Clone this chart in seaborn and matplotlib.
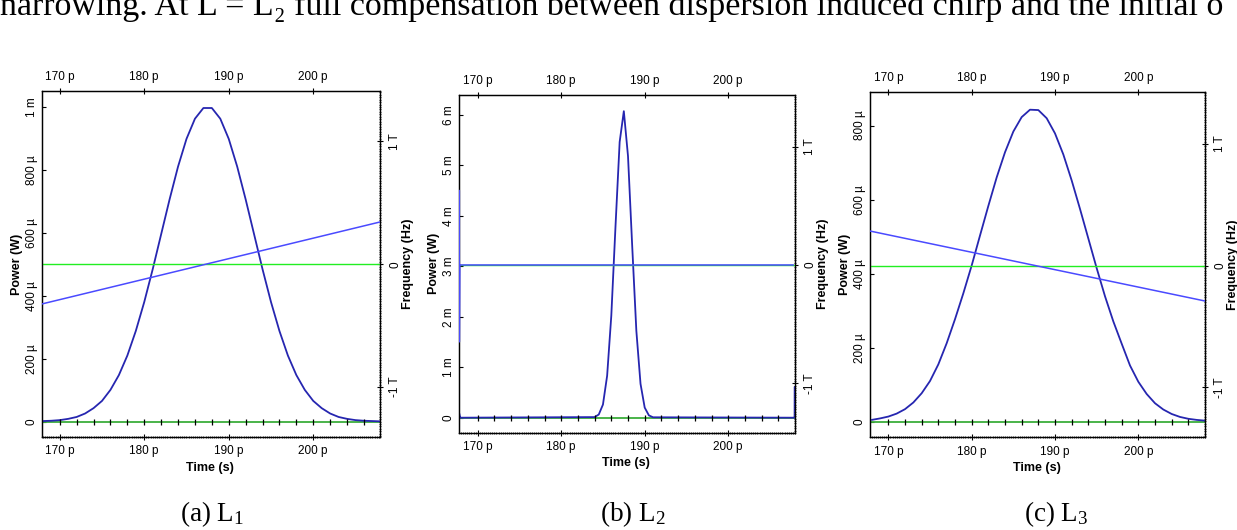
import matplotlib
matplotlib.use("Agg")
import matplotlib.pyplot as plt
import seaborn as sns
import pandas as pd
from matplotlib.ticker import MultipleLocator, FixedLocator, FixedFormatter

sns.set_theme(style="white")
plt.rcParams['font.family'] = ['Liberation Sans', 'DejaVu Sans']
plt.rcParams['mathtext.fontset'] = 'custom'
plt.rcParams['mathtext.rm'] = 'Liberation Serif'
plt.rcParams['mathtext.it'] = 'Liberation Serif:italic'

# ---------------- data ----------------
time_ticks = [170, 180, 190, 200]
time_tick_labels = ["170 p", "180 p", "190 p", "200 p"]
freq_ticks = [-1, 0, 1]
freq_tick_labels = ["-1 T", "0", "1 T"]
zero_line_marks = [170, 172, 174, 176, 178, 180, 182, 184, 186, 188,
                   190, 192, 194, 196, 198, 200, 202, 204, 206]

# panel (a) L1
a_time = list(range(168, 209))
a_power_mw = [0.002, 0.003, 0.005, 0.009, 0.015, 0.026, 0.043, 0.066, 0.101, 0.148,
              0.210, 0.288, 0.380, 0.484, 0.595, 0.706, 0.810, 0.898, 0.962, 0.996,
              0.996, 0.962, 0.898, 0.810, 0.706, 0.595, 0.484, 0.380, 0.288, 0.210,
              0.148, 0.101, 0.066, 0.043, 0.026, 0.015, 0.009, 0.005, 0.003, 0.002,
              0.001]
a_chirp_time = [167.9, 207.9]
a_chirp_thz = [-0.323, 0.344]
a_power_ticks = [0, 0.2, 0.4, 0.6, 0.8, 1.0]
a_power_labels = ["0", "200 µ", "400 µ", "600 µ", "800 µ", "1 m"]

# panel (b) L2
b_time = [167.8, 167.9, 168.0, 184.0, 184.5, 185.0, 185.5, 186.0, 186.5, 187.0,
          187.5, 188.0, 188.5, 189.0, 189.5, 190.0, 190.5, 191.0, 207.9, 207.95, 207.96]
b_power_mw = [0.08, 0.0, 0.0, 0.012, 0.063, 0.26, 0.83, 2.02, 3.78, 5.46,
              6.07, 5.18, 3.41, 1.72, 0.67, 0.20, 0.046, 0.008, 0.0, 0.0, 0.61]
b_chirp_time = [167.8, 167.8, 167.85, 207.8]
b_chirp_thz = [0.63, -0.65, 0.0, 0.0]
b_power_ticks = [0, 1, 2, 3, 4, 5, 6]
b_power_labels = ["0", "1 m", "2 m", "3 m", "4 m", "5 m", "6 m"]

# panel (c) L3
c_time = list(range(168, 209))
c_power_mw = [0.005, 0.009, 0.014, 0.022, 0.034, 0.052, 0.077, 0.110, 0.155, 0.212,
              0.277, 0.347, 0.422, 0.503, 0.583, 0.660, 0.728, 0.784, 0.823, 0.843,
              0.842, 0.820, 0.779, 0.722, 0.652, 0.575, 0.495, 0.415, 0.339, 0.271,
              0.211, 0.152, 0.108, 0.075, 0.050, 0.033, 0.021, 0.013, 0.008, 0.005,
              0.003]
c_chirp_time = [167.8, 208.0]
c_chirp_thz = [0.285, -0.29]
c_power_ticks = [0, 0.2, 0.4, 0.6, 0.8]
c_power_labels = ["0", "200 µ", "400 µ", "600 µ", "800 µ"]

captions = ["(a) L$_1$", "(b) L$_2$", "(c) L$_3$"]
top_text = "narrowing. At L = L\u2082 full compensation between dispersion induced chirp and the initial o"

# ---------------- style ----------------
POWER_C = "#2626b0"
CHIRP_C = "#4a4aff"
GREEN_F = "#22ee22"
GREEN_P = "#3cae3c"
W, H = 1237, 530

panels = [
    dict(t=a_time, p=a_power_mw, ct=a_chirp_time, cf=a_chirp_thz,
         pt=a_power_ticks, pl=a_power_labels,
         box=(42, 91, 380, 437), xlim=(167.9, 207.9), ylim=(-0.0486, 1.05),
         flim=(-1.406, 1.41), cap_x=212),
    dict(t=b_time, p=b_power_mw, ct=b_chirp_time, cf=b_chirp_thz,
         pt=b_power_ticks, pl=b_power_labels,
         box=(459, 95, 795, 432.7), xlim=(167.76, 208.0), ylim=(-0.297, 6.39),
         flim=(-1.418, 1.437), cap_x=633),
    dict(t=c_time, p=c_power_mw, ct=c_chirp_time, cf=c_chirp_thz,
         pt=c_power_ticks, pl=c_power_labels,
         box=(870, 92.3, 1205, 437.3), xlim=(167.8, 208.0), ylim=(-0.042, 0.890),
         flim=(-1.41, 1.425), cap_x=1056),
]

fig = plt.figure(figsize=(W / 100, H / 100), dpi=100)
fig.patch.set_facecolor("white")

for i, pn in enumerate(panels):
    l, t, r, b = pn["box"]
    ax = fig.add_axes([l / W, 1 - b / H, (r - l) / W, (b - t) / H])
    ax.set_facecolor("white")
    tw = ax.twinx()

    x0, x1 = pn["xlim"]
    # green zero power line underneath
    zdf = pd.DataFrame({"t": [x0, x1], "v": [0.0, 0.0]})
    sns.lineplot(data=zdf, x="t", y="v", ax=ax, color=GREEN_P, lw=1.3, zorder=2)
    pdf = pd.DataFrame({"t": pn["t"], "v": pn["p"]})
    sns.lineplot(data=pdf, x="t", y="v", ax=ax, color=POWER_C, lw=1.3, zorder=3,
                 sort=False, estimator=None)
    mdf = pd.DataFrame({"t": zero_line_marks, "v": [0.0] * len(zero_line_marks)})
    ax.plot(mdf["t"], mdf["v"], linestyle="none", marker="|", markersize=4.5,
            markeredgewidth=0.9, color="black", zorder=4)

    # frequency (twin axis)
    fdf = pd.DataFrame({"t": [x0, x1], "v": [0.0, 0.0]})
    sns.lineplot(data=fdf, x="t", y="v", ax=tw, color=GREEN_F, lw=1.0, zorder=2)
    cdf = pd.DataFrame({"t": pn["ct"], "v": pn["cf"]})
    sns.lineplot(data=cdf, x="t", y="v", ax=tw, color=CHIRP_C, lw=1.1, zorder=3,
                 sort=False, estimator=None)

    ax.set_xlim(*pn["xlim"])
    ax.set_ylim(*pn["ylim"])
    tw.set_ylim(*pn["flim"])

    # x ticks top & bottom
    ax.xaxis.set_major_locator(FixedLocator(time_ticks))
    ax.xaxis.set_major_formatter(FixedFormatter(time_tick_labels))
    ax.xaxis.set_minor_locator(MultipleLocator(0.25))
    ax.tick_params(axis="x", which="major", direction="inout", length=5, width=0.8,
                   top=True, bottom=True, labeltop=True, labelbottom=True,
                   labelsize=8.5, pad=3.5, color="black", labelcolor="black")
    ax.tick_params(axis="x", which="minor", direction="inout", length=2, width=0.6,
                   top=False, bottom=True)
    # left y ticks
    ax.yaxis.set_major_locator(FixedLocator(pn["pt"]))
    ax.yaxis.set_major_formatter(FixedFormatter(pn["pl"]))
    ax.tick_params(axis="y", which="major", direction="in", length=3, width=0.8,
                   left=True, right=False, labelsize=8.5, pad=3, labelrotation=90,
                   color="black", labelcolor="black")
    for lab in ax.get_yticklabels():
        lab.set_va("center")
    # right y ticks
    tw.yaxis.set_major_locator(FixedLocator(freq_ticks))
    tw.yaxis.set_major_formatter(FixedFormatter(freq_tick_labels))
    tw.yaxis.set_minor_locator(MultipleLocator(0.02))
    tw.tick_params(axis="y", which="major", direction="inout", length=5, width=0.8,
                   right=True, left=False, labelsize=8.5, pad=4, labelrotation=90,
                   color="black", labelcolor="black")
    tw.tick_params(axis="y", which="minor", direction="inout", length=2, width=0.6,
                   right=True, left=False)
    for lab in tw.get_yticklabels():
        lab.set_va("center")

    for sp in list(ax.spines.values()) + list(tw.spines.values()):
        sp.set_color("black")
        sp.set_linewidth(0.9)

    ax.set_xlabel("Time (s)", fontsize=9, fontweight="bold", color="black")
    ax.set_ylabel("Power (W)", fontsize=9, fontweight="bold", color="black")
    tw.set_ylabel("Frequency (Hz)", fontsize=9, fontweight="bold", color="black")
    ax.xaxis.set_label_coords(0.497, -0.072)
    ax.yaxis.set_label_coords(-19 / (r - l), 0.5)
    tw.yaxis.set_label_coords(1 + 22 / (r - l), 0.5)

    fig.text(pn["cap_x"] / W, 1 - 521 / H, captions[i], fontsize=19.5,
             family=["Liberation Serif", "DejaVu Serif"], ha="center", va="baseline",
             color="black")

fig.text(0.0, 1 - 15 / H, top_text, fontsize=24.5,
         family=["Liberation Serif", "DejaVu Serif"], ha="left", va="baseline",
         color="black")

fig.savefig("out.png", dpi=100, facecolor="white")
